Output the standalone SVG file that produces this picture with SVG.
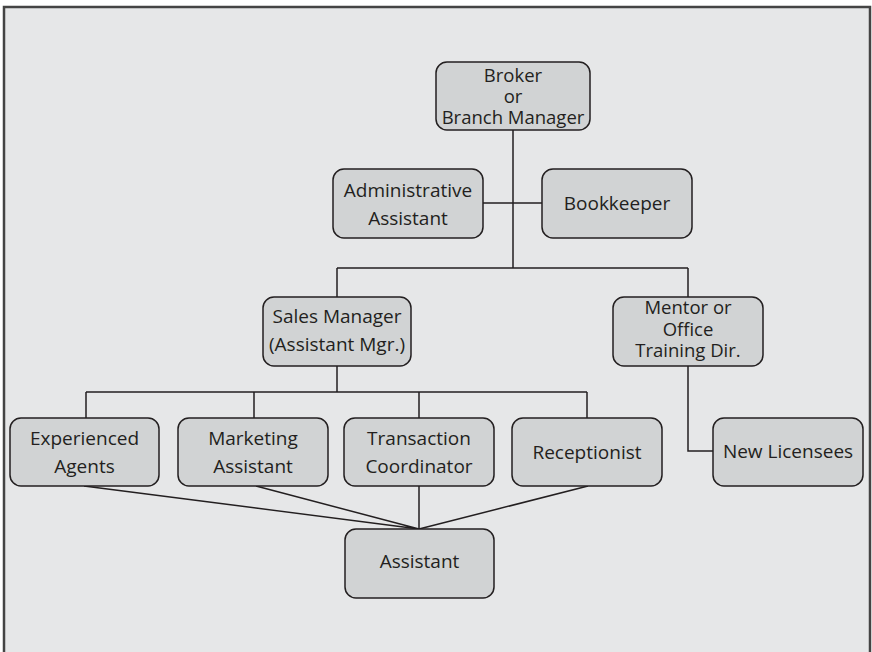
<svg xmlns="http://www.w3.org/2000/svg" width="872" height="652" viewBox="0 0 872 652">
<style>
.frame{fill:#e6e7e8;stroke:#444;stroke-width:2.5}
.box{fill:#d1d3d4;stroke:#231f20;stroke-width:1.5}
.ln{fill:none;stroke:#231f20;stroke-width:1.5}
text{font-family:"Open Sans","DejaVu Sans",sans-serif;font-size:19px;fill:#231f20;text-anchor:middle}
.t3{font-size:18.5px}
</style>
<rect width="872" height="652" fill="#ffffff"/>
<rect class="frame" x="4" y="7" width="866" height="660"/>
<g id="connectors">
<path class="ln" d="M513 130V268M483 203H542M337 268H688M337 268V297M688 268V297"/>
<path class="ln" d="M337 366V392M86 392H587M86 392V418M254 392V418M419 392V418M587 392V418"/>
<path class="ln" d="M688 366V451H713"/>
<path class="ln" d="M419 486V529M84 486L419 529M256 486L419 529M588 486L419 529"/>
</g>
<g id="broker"><rect class="box" x="436" y="62" width="154" height="68" rx="11"/><text class="t3" x="513" y="81.5">Broker</text><text class="t3" x="513" y="102.5">or</text><text class="t3" x="513" y="123.5">Branch Manager</text></g>
<g id="admin"><rect class="box" x="333" y="169" width="150" height="69" rx="11"/><text x="408" y="197">Administrative</text><text x="408" y="225">Assistant</text></g>
<g id="bookkeeper"><rect class="box" x="542" y="169" width="150" height="69" rx="11"/><text x="617" y="210">Bookkeeper</text></g>
<g id="sales"><rect class="box" x="263" y="297" width="148" height="69" rx="11"/><text x="337" y="323">Sales Manager</text><text x="337" y="351">(Assistant Mgr.)</text></g>
<g id="mentor"><rect class="box" x="613" y="297" width="150" height="69" rx="11"/><text class="t3" x="688" y="314">Mentor or</text><text class="t3" x="688" y="335.5">Office</text><text class="t3" x="688" y="357">Training Dir.</text></g>
<g id="experienced"><rect class="box" x="10" y="418" width="149" height="68" rx="11"/><text x="84.5" y="445">Experienced</text><text x="84.5" y="473">Agents</text></g>
<g id="marketing"><rect class="box" x="178" y="418" width="150" height="68" rx="11"/><text x="253" y="445">Marketing</text><text x="253" y="473">Assistant</text></g>
<g id="transaction"><rect class="box" x="344" y="418" width="150" height="68" rx="11"/><text x="419" y="445">Transaction</text><text x="419" y="473">Coordinator</text></g>
<g id="receptionist"><rect class="box" x="512" y="418" width="150" height="68" rx="11"/><text x="587" y="459">Receptionist</text></g>
<g id="newlicensees"><rect class="box" x="713" y="418" width="150" height="68" rx="11"/><text x="788" y="458">New Licensees</text></g>
<g id="assistant"><rect class="box" x="345" y="529" width="149" height="69" rx="11"/><text x="419.5" y="568">Assistant</text></g>
</svg>
